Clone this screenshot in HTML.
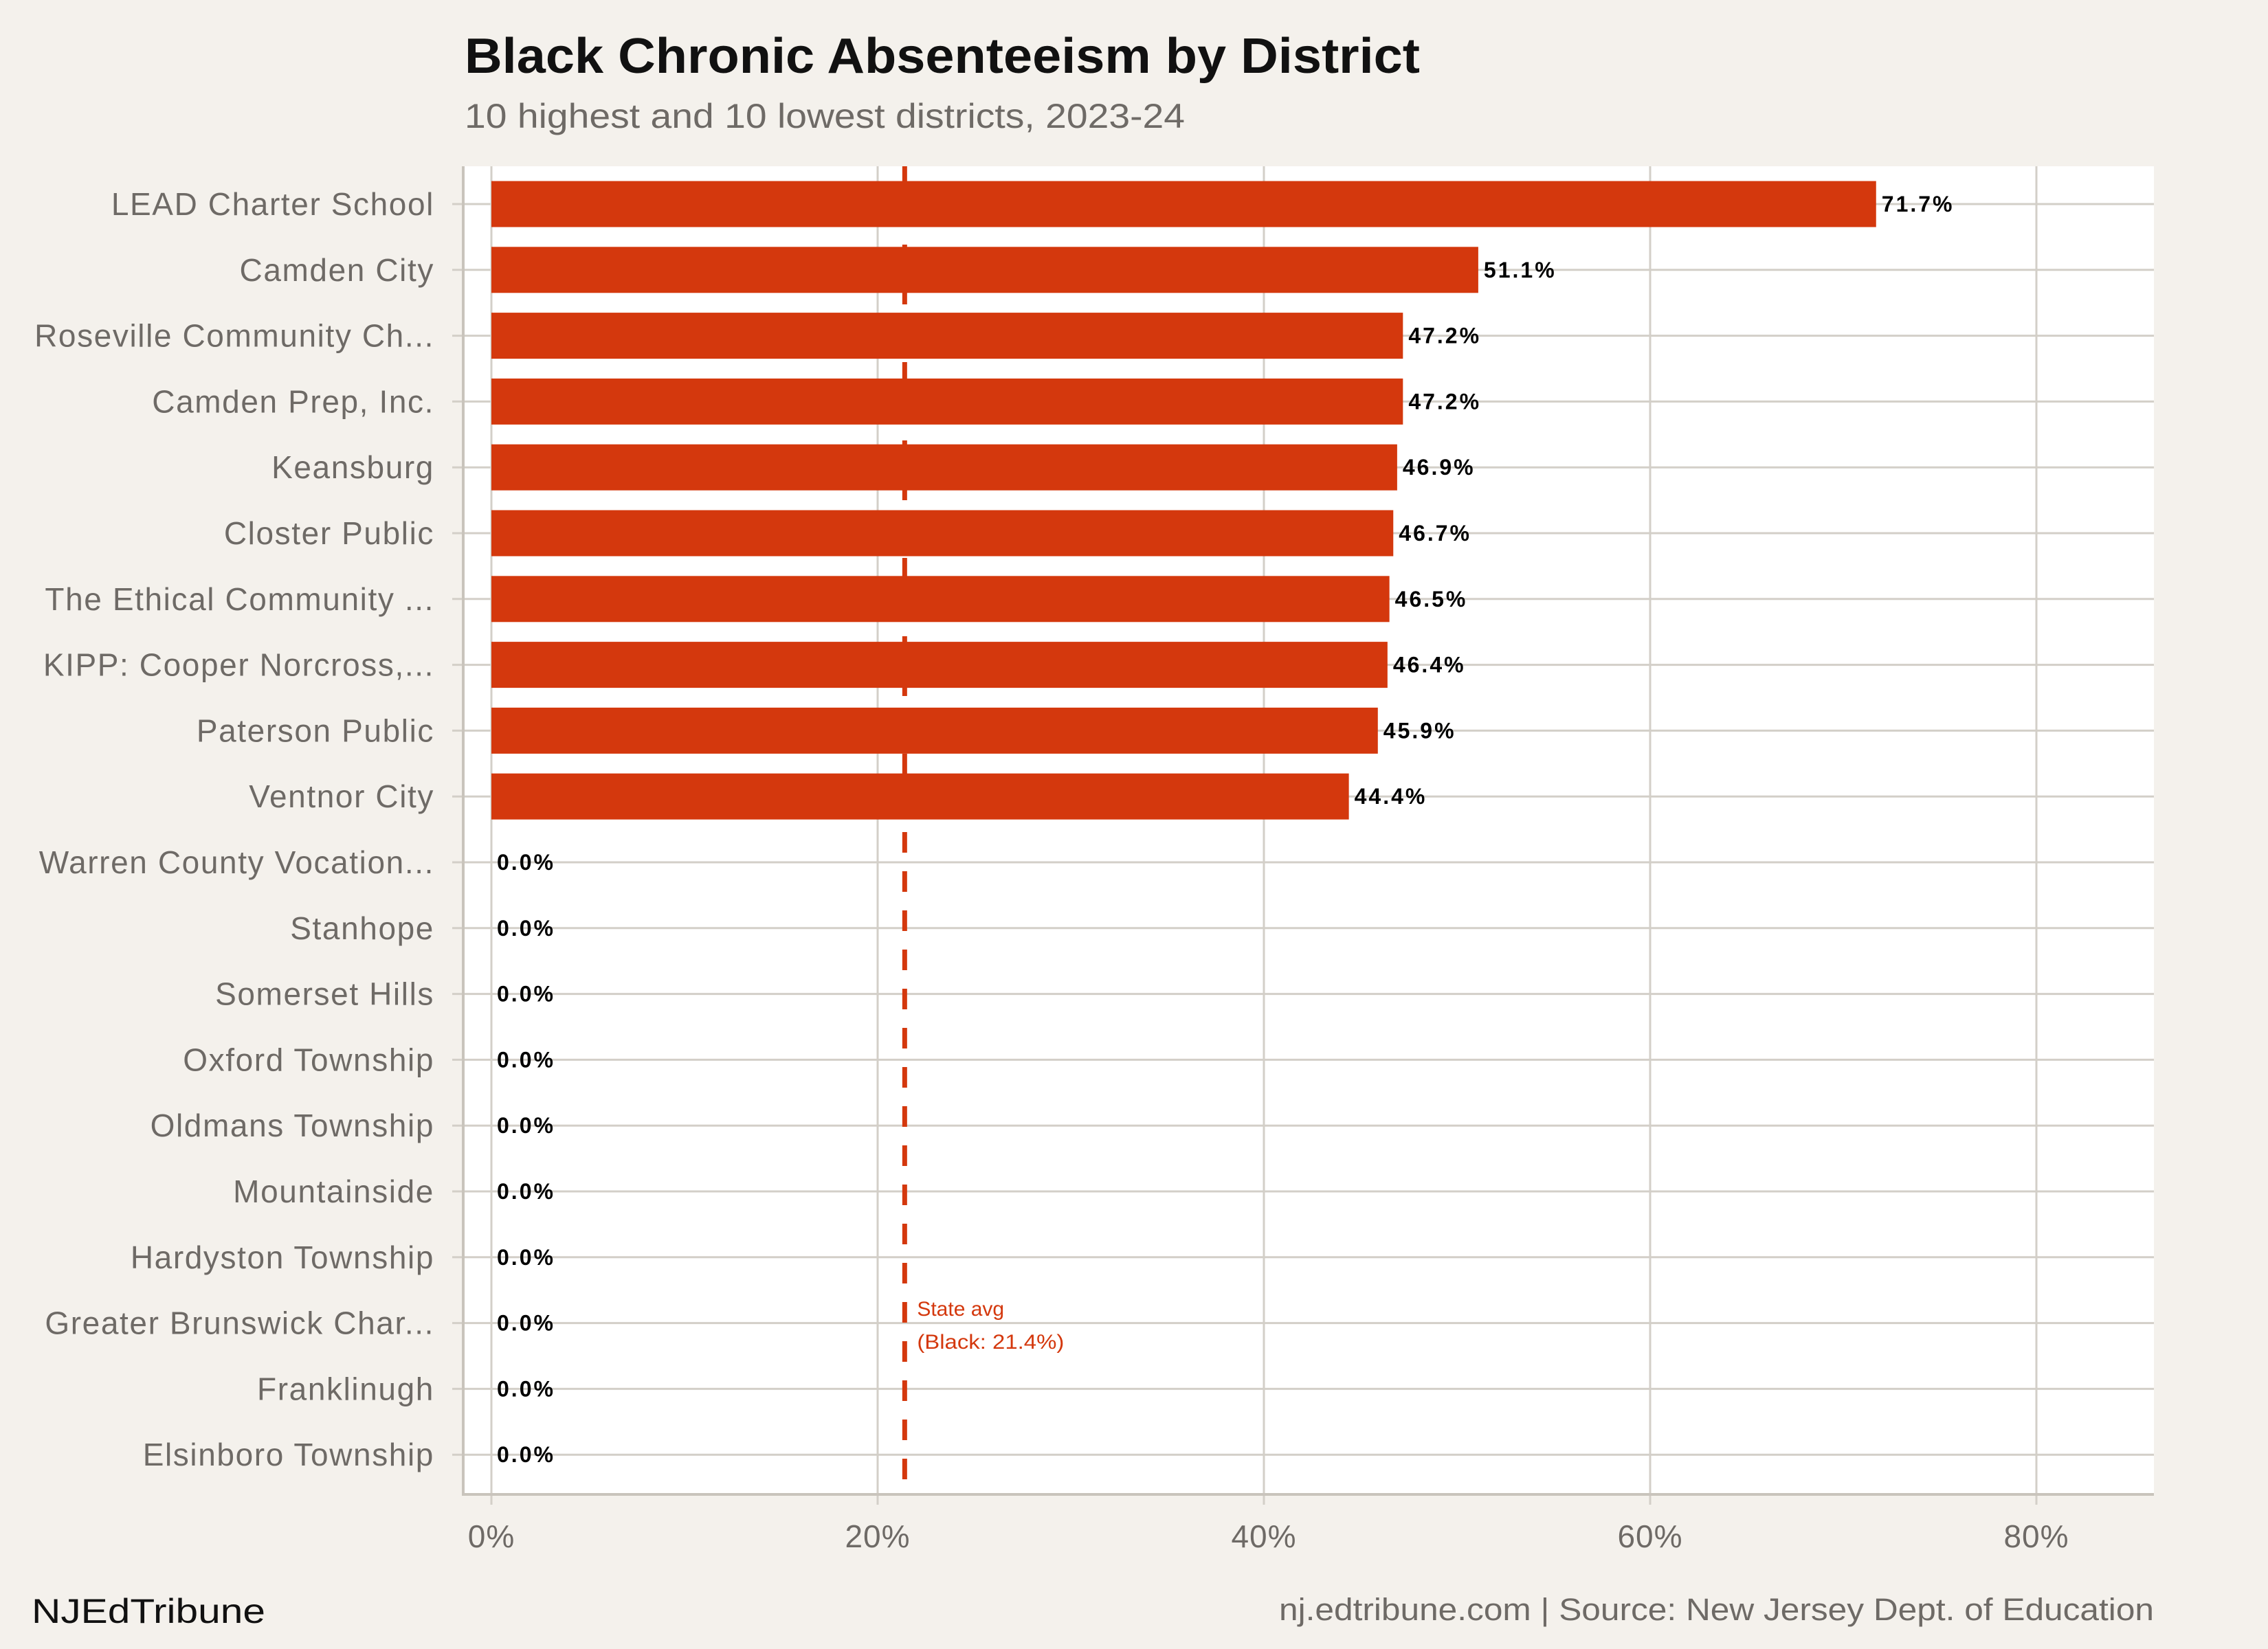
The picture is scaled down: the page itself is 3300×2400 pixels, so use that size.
<!DOCTYPE html>
<html><head><meta charset="utf-8"><style>
html,body{margin:0;padding:0;background:#F4F1EC;}
svg{display:block;font-family:"Liberation Sans",Arial,sans-serif;}
</style></head><body>
<svg id="chart" width="3300" height="2400" viewBox="0 0 3300 2400" xmlns="http://www.w3.org/2000/svg">
<rect width="3300" height="2400" fill="#F4F1EC"/>
<text x="676" y="106" font-size="72" font-weight="bold" fill="#111" textLength="1390" lengthAdjust="spacingAndGlyphs">Black Chronic Absenteeism by District</text>
<text x="676" y="186" font-size="50" fill="#6e6a66" textLength="1048" lengthAdjust="spacingAndGlyphs">10 highest and 10 lowest districts, 2023-24</text>
<rect x="674" y="242" width="2460" height="1932" fill="#fff"/>
<g id="grid"></g>
<line id="avg" y1="242" y2="2174" stroke="#D4380D" stroke-width="7" stroke-dasharray="30,27"/>
<g id="bars"></g><g id="labels"></g>
<line x1="674" y1="242" x2="674" y2="2175" stroke="#C9C4BC" stroke-width="4"/>
<line x1="672" y1="2175" x2="3134" y2="2175" stroke="#C9C4BC" stroke-width="4"/>
<text id="avgt1" y="1915" font-size="30" fill="#D4380D">State avg</text>
<text id="avgt2" y="1963" font-size="30" fill="#D4380D" textLength="214" lengthAdjust="spacingAndGlyphs">(Black: 21.4%)</text>
<text x="46" y="2362" font-size="50" fill="#111" textLength="340" lengthAdjust="spacingAndGlyphs">NJEdTribune</text>
<text x="1861" y="2358" font-size="45" fill="#6e6a66" textLength="1273" lengthAdjust="spacingAndGlyphs">nj.edtribune.com | Source: New Jersey Dept. of Education</text>
</svg>
<script>
const districts=["LEAD Charter School","Camden City","Roseville Community Ch...","Camden Prep, Inc.","Keansburg","Closter Public","The Ethical Community ...","KIPP: Cooper Norcross,...","Paterson Public","Ventnor City","Warren County Vocation...","Stanhope","Somerset Hills","Oxford Township","Oldmans Township","Mountainside","Hardyston Township","Greater Brunswick Char...","Franklinugh","Elsinboro Township"];
const values=[71.7,51.1,47.2,47.2,46.9,46.7,46.5,46.4,45.9,44.4,0,0,0,0,0,0,0,0,0,0];
const xTicks=[0,20,40,60,80];
const stateAvg=21.4;
const NS="http://www.w3.org/2000/svg";
const x=v=>715+v*28.1;
const y=i=>297+i*95.8;
function mk(t,a,p){const e=document.createElementNS(NS,t);for(const k in a)e.setAttribute(k,a[k]);p.appendChild(e);return e;}
const grid=document.getElementById('grid'),bars=document.getElementById('bars'),labels=document.getElementById('labels');
xTicks.forEach(t=>{
  const l=mk('line',{x1:x(t),x2:x(t),y1:242,y2:2190,stroke:'#D3CFC8','stroke-width':3},grid);
  
  
  const tx=mk('text',{x:x(t),y:2252,'font-size':46,fill:'#6e6a66','text-anchor':'middle','letter-spacing':1},grid);
  tx.textContent=t+'%';
  
  
});
districts.forEach((d,i)=>{
  const g=mk('line',{x1:658,x2:3134,y1:y(i),y2:y(i),stroke:'#D3CFC8','stroke-width':3},grid);
  
  
  const lt=mk('text',{x:632,y:y(i)+16,'font-size':46,fill:'#6e6a66','text-anchor':'end','letter-spacing':1.6},labels);
  lt.textContent=d;
  
  
  if(values[i]>0){
    const b=mk('rect',{x:x(0),y:y(i)-33.5,width:x(values[i])-x(0),height:67,fill:'#D4380D'},bars);
    
    
  }
  const vt=mk('text',{x:x(values[i])+8,y:y(i)+11,'font-size':32,'font-weight':'bold',fill:'#000','letter-spacing':3},labels);
  vt.textContent=values[i].toFixed(1)+'%';
  
  
});
const avg=document.getElementById('avg');avg.setAttribute('x1',x(stateAvg));avg.setAttribute('x2',x(stateAvg));
document.getElementById('avgt1').setAttribute('x',x(stateAvg)+18);
document.getElementById('avgt2').setAttribute('x',x(stateAvg)+18);
</script>
</body></html>
